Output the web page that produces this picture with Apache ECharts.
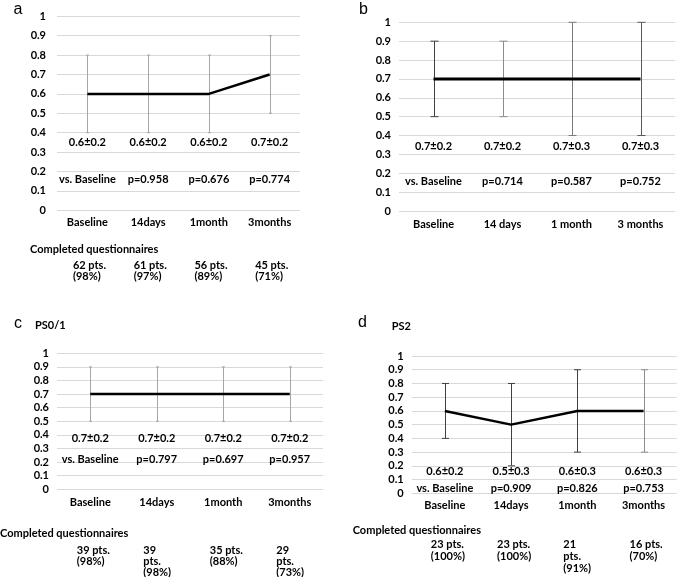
<!DOCTYPE html>
<html><head><meta charset="utf-8">
<script src="https://cdn.jsdelivr.net/npm/echarts@6/dist/echarts.min.js"></script>
<style>html,body{margin:0;padding:0;background:#fff}#c{width:685px;height:577px}</style>
</head><body><div id="c"></div>
<script>
// ---------- data ----------
const categoriesA = ['Baseline', '14days', '1month', '3months'];
const categoriesB = ['Baseline', '14 days', '1 month', '3 months'];
const categoriesC = ['Baseline', '14days', '1month', '3months'];
const categoriesD = ['Baseline', '14days', '1month', '3months'];

const meanA = [0.6, 0.6, 0.6, 0.7];
const sdA   = [0.2, 0.2, 0.2, 0.2];
const meanB = [0.7, 0.7, 0.7, 0.7];
const sdB   = [0.2, 0.2, 0.3, 0.3];
const meanC = [0.7, 0.7, 0.7, 0.7];
const sdC   = [0.2, 0.2, 0.2, 0.2];
const meanD = [0.6, 0.5, 0.6, 0.6];
const sdD   = [0.2, 0.3, 0.3, 0.3];

const pA = ['vs. Baseline', 'p=0.958', 'p=0.676', 'p=0.774'];
const pB = ['vs. Baseline', 'p=0.714', 'p=0.587', 'p=0.752'];
const pC = ['vs. Baseline', 'p=0.797', 'p=0.697', 'p=0.957'];
const pD = ['vs. Baseline', 'p=0.909', 'p=0.826', 'p=0.753'];

const completedA = ['62 pts.\n(98%)', '61 pts.\n(97%)', '56 pts.\n(89%)', '45 pts.\n(71%)'];
const completedC = ['39 pts.\n(98%)', '39\npts.\n(98%)', '35 pts.\n(88%)', '29\npts.\n(73%)'];
const completedD = ['23 pts.\n(100%)', '23 pts.\n(100%)', '21\npts.\n(91%)', '16 pts.\n(70%)'];

const yMin = 0, yMax = 1, yStep = 0.1;
const panelLetters = ['a', 'b', 'c', 'd'];
const subtitlesC = 'PS0/1';
const subtitlesD = 'PS2';
const completedTitle = 'Completed questionnaires';

// ---------- layout / style ----------
const FONT = 'Lato';
const FS = 11;
const BOLD = 'bold ' + FS + 'px ' + FONT;
const panels = [
  { cats: categoriesA, mean: meanA, sd: sdA, p: pA, completed: completedA,
    grid: { left: 57, top: 16.3, width: 243, height: 194 },
    yMargin: 11, xMargin: 7, meanY: 142.7, pY: 179, compY: 259.2, compDx: -14.5, compLH: 11.7,
    barColors: ['#a6a6a6', '#a6a6a6', '#a6a6a6', '#a6a6a6'], cap: 1.5, lineW: 2.5 },
  { cats: categoriesB, mean: meanB, sd: sdB, p: pB, completed: null,
    grid: { left: 399, top: 22.3, width: 276, height: 188.7 },
    yMargin: 8, xMargin: 8, meanY: 146.7, pY: 181.7,
    barColors: ['#404040', '#8c8c8c', '#7a7a7a', '#595959'], cap: 4, lineW: 3 },
  { cats: categoriesC, mean: meanC, sd: sdC, p: pC, completed: completedC,
    grid: { left: 57, top: 353.3, width: 266, height: 136 },
    yMargin: 8, xMargin: 8, meanY: 438.3, pY: 459.3, compY: 544.5, compDx: -13.5, compLH: 11,
    barColors: ['#a6a6a6', '#a6a6a6', '#a6a6a6', '#a6a6a6'], cap: 1.5, lineW: 2.5 },
  { cats: categoriesD, mean: meanD, sd: sdD, p: pD, completed: completedD,
    grid: { left: 411.7, top: 356, width: 265, height: 137.3 },
    yMargin: 8, xMargin: 7, meanY: 471.7, pY: 488.3, compY: 538, compDx: -14, compLH: 12.3,
    barColors: ['#404040', '#404040', '#404040', '#8c8c8c'], cap: 3.5, lineW: 2.5 }
];

const chart = echarts.init(document.getElementById('c'), null, { renderer: 'canvas' });

const grids = [], xAxes = [], yAxes = [], series = [];
panels.forEach((P, i) => {
  grids.push(Object.assign({ containLabel: false }, P.grid));
  xAxes.push({
    type: 'category', gridIndex: i, data: P.cats, boundaryGap: true,
    axisLine: { show: false }, axisTick: { show: false }, splitLine: { show: false },
    axisLabel: { color: '#000', fontFamily: FONT, fontWeight: 'bold', fontSize: FS, margin: P.xMargin, interval: 0 }
  });
  yAxes.push({
    type: 'value', gridIndex: i, min: yMin, max: yMax, interval: yStep,
    axisLine: { show: false }, axisTick: { show: false },
    splitLine: { show: true, lineStyle: { color: '#d9d9d9', width: 1 } },
    axisLabel: { color: '#000', fontFamily: FONT, fontWeight: 'bold', fontSize: FS, margin: P.yMargin,
      formatter: v => String(+v.toFixed(1)) }
  });
  // error bars
  series.push({
    type: 'custom', xAxisIndex: i, yAxisIndex: i, z: 2, silent: true,
    data: P.mean.map((m, k) => [k, m - P.sd[k], m + P.sd[k]]),
    renderItem: (params, api) => {
      const k = api.value(0);
      const lo = api.coord([k, api.value(1)]);
      const hi = api.coord([k, api.value(2)]);
      const c = P.barColors[k];
      const st = { stroke: c, lineWidth: 1 };
      const x = Math.round(lo[0]) + 0.5;
      return { type: 'group', children: [
        { type: 'line', shape: { x1: x, y1: lo[1], x2: x, y2: hi[1] }, style: st },
        { type: 'line', shape: { x1: x - P.cap, y1: lo[1], x2: x + P.cap, y2: lo[1] }, style: st },
        { type: 'line', shape: { x1: x - P.cap, y1: hi[1], x2: x + P.cap, y2: hi[1] }, style: st }
      ]};
    }
  });
  // mean line
  series.push({
    type: 'line', xAxisIndex: i, yAxisIndex: i, z: 3, data: P.mean,
    symbol: 'none', lineStyle: { color: '#000', width: P.lineW }, silent: true
  });
  // text annotations under each category
  series.push({
    type: 'custom', xAxisIndex: i, yAxisIndex: i, z: 4, silent: true, clip: false,
    data: P.mean.map((m, k) => [k, m]),
    renderItem: (params, api) => {
      const k = api.value(0);
      const x = api.coord([k, 0])[0];
      const ch = [
        { type: 'text', x: x, y: P.meanY, style: { text: P.mean[k].toFixed(1) + '±' + P.sd[k].toFixed(1), fill: '#000', font: BOLD, align: 'center', verticalAlign: 'middle' } },
        { type: 'text', x: x, y: P.pY, style: { text: P.p[k], fill: '#000', font: BOLD, align: 'center', verticalAlign: 'middle' } }
      ];
      if (P.completed) {
        ch.push({ type: 'text', x: x + P.compDx, y: P.compY, style: { text: P.completed[k], fill: '#000', font: BOLD, align: 'left', verticalAlign: 'top', lineHeight: P.compLH } });
      }
      return { type: 'group', children: ch };
    }
  });
});

const LETTER = '16px "Liberation Sans"';
const graphic = [
  { type: 'text', x: 18, y: 10, style: { text: panelLetters[0], font: LETTER, fill: '#000', align: 'center', verticalAlign: 'middle' } },
  { type: 'text', x: 363.5, y: 9.5, style: { text: panelLetters[1], font: LETTER, fill: '#000', align: 'center', verticalAlign: 'middle' } },
  { type: 'text', x: 18, y: 324, style: { text: panelLetters[2], font: LETTER, fill: '#000', align: 'center', verticalAlign: 'middle' } },
  { type: 'text', x: 362.5, y: 323, style: { text: panelLetters[3], font: LETTER, fill: '#000', align: 'center', verticalAlign: 'middle' } },
  { type: 'text', x: 35, y: 325, style: { text: subtitlesC, font: BOLD, fill: '#000', align: 'left', verticalAlign: 'middle' } },
  { type: 'text', x: 391.7, y: 326, style: { text: subtitlesD, font: BOLD, fill: '#000', align: 'left', verticalAlign: 'middle' } },
  { type: 'text', x: 30, y: 249.3, style: { text: completedTitle, font: BOLD, fill: '#000', align: 'left', verticalAlign: 'middle' } },
  { type: 'text', x: 0, y: 533.3, style: { text: completedTitle, font: BOLD, fill: '#000', align: 'left', verticalAlign: 'middle' } },
  { type: 'text', x: 352.7, y: 530, style: { text: completedTitle, font: BOLD, fill: '#000', align: 'left', verticalAlign: 'middle' } }
];

chart.setOption({
  animation: false,
  backgroundColor: '#fff',
  grid: grids, xAxis: xAxes, yAxis: yAxes, series: series, graphic: graphic
});
</script>
</body></html>
